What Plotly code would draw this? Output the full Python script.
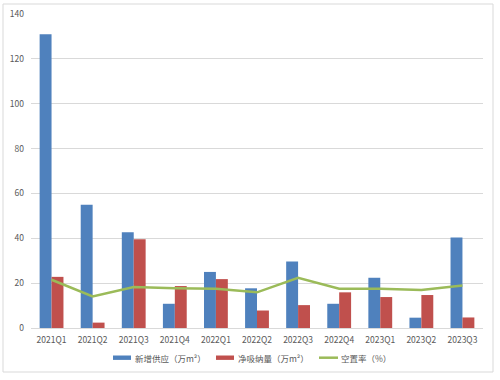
import plotly.graph_objects as go

categories = ["2021Q1", "2021Q2", "2021Q3", "2021Q4", "2022Q1", "2022Q2",
              "2022Q3", "2022Q4", "2023Q1", "2023Q2", "2023Q3"]
new_supply = [131, 55, 42.7, 10.8, 25, 17.7, 29.7, 10.8, 22.4, 4.6, 40.3]
net_absorption = [22.8, 2.4, 39.6, 18.7, 21.8, 7.8, 10.2, 15.9, 13.8, 14.7, 4.7]
vacancy_rate = [21.5, 14.1, 18.3, 17.7, 17.5, 15.9, 22.4, 17.5, 17.5, 16.9, 18.9]
y_ticks = [0, 20, 40, 60, 80, 100, 120, 140]
series_names = ["新增供应（万m²）", "净吸纳量（万m²）", "空置率（%）"]
series_colors = ["#4F81BD", "#C0504D", "#9BBB59"]

font_family = "Noto Sans CJK SC, DejaVu Sans, sans-serif"
text_color = "#595959"

fig = go.Figure()
fig.add_trace(go.Bar(x=categories, y=new_supply, name=series_names[0],
                     marker=dict(color=series_colors[0], line=dict(width=0))))
fig.add_trace(go.Bar(x=categories, y=net_absorption, name=series_names[1],
                     marker=dict(color=series_colors[1], line=dict(width=0))))
fig.add_trace(go.Scatter(x=categories, y=vacancy_rate, name=series_names[2],
                         mode="lines", line=dict(color=series_colors[2], width=2.5)))

L, R, T, B = 31, 17, 14, 52
pw, ph = 500 - L - R, 380 - T - B

def px_x(px):
    return (px - L) / pw

def px_y(py):
    return (380 - B - py) / ph

shapes = [dict(type="rect", xref="paper", yref="paper",
               x0=px_x(3), x1=px_x(493), y0=px_y(372), y1=px_y(4),
               line=dict(color="#D9D9D9", width=1), fillcolor="rgba(0,0,0,0)",
               layer="below")]
annotations = []

# manual legend (swatch start, text start)
legend_items = [(113, 132.5), (216, 235.5), (319, 338.5)]
ly = 357.7
for i, (sx, tx) in enumerate(legend_items):
    if i < 2:
        shapes.append(dict(type="rect", xref="paper", yref="paper",
                           x0=px_x(sx), x1=px_x(sx + 18),
                           y0=px_y(ly + 2.2), y1=px_y(ly - 2.2),
                           line=dict(width=0), fillcolor=series_colors[i]))
    else:
        shapes.append(dict(type="line", xref="paper", yref="paper",
                           x0=px_x(sx), x1=px_x(sx + 19),
                           y0=px_y(ly), y1=px_y(ly),
                           line=dict(color=series_colors[i], width=2.5)))
    annotations.append(dict(xref="paper", yref="paper", x=px_x(tx), y=px_y(ly),
                            xanchor="left", yanchor="middle", showarrow=False,
                            text=series_names[i],
                            font=dict(size=8.5, color=text_color, family=font_family)))

fig.update_layout(
    width=500, height=380,
    margin=dict(l=L, r=R, t=T, b=B, autoexpand=False),
    paper_bgcolor="white", plot_bgcolor="white",
    barmode="group", bargap=0.42, bargroupgap=0,
    font=dict(family=font_family, size=8.5, color=text_color),
    showlegend=False,
    shapes=shapes, annotations=annotations,
    xaxis=dict(showgrid=False, showline=True, linecolor="#D9D9D9", linewidth=1,
               ticks="", automargin=False, ticklabelstandoff=4,
               tickfont=dict(size=8.5, color=text_color)),
    yaxis=dict(range=[0, 140], tickvals=y_ticks, showgrid=True,
               gridcolor="#D9D9D9", gridwidth=1, zeroline=False,
               showline=False, ticks="", automargin=False, ticklabelstandoff=6,
               tickfont=dict(size=8.5, color=text_color)),
)

fig.write_html("out.html",
               config={"displayModeBar": False},
               post_script="document.body.style.margin='0';document.body.style.overflow='hidden';")
